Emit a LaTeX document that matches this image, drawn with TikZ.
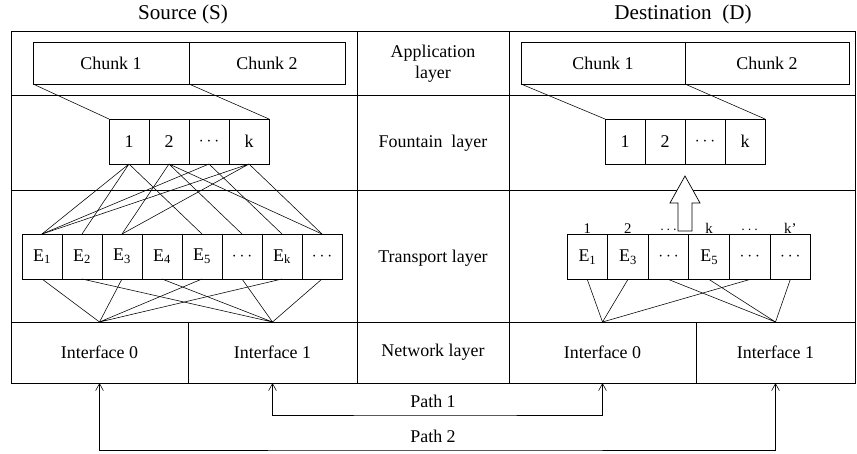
\documentclass[tikz,border=0pt]{standalone}
\usepackage{fontspec}
\setmainfont{Liberation Serif}
\usepackage{tikz}
\usetikzlibrary{positioning}
\usetikzlibrary{arrows.meta}

\tikzset{
  box/.style={draw, line width=1pt, inner sep=0pt, outer sep=0pt,
    minimum width=2cm, minimum height=2.25cm},
  chunkbox/.style={box, minimum width=7.8cm, minimum height=2.1cm},
  ifbox/.style={box, minimum height=3.05cm},
  frame/.style={line width=1.1pt},
  link/.style={line width=0.8pt},
  title/.style={font=\fontsize{30}{34}\selectfont},
  toplbl/.style={inner sep=1pt, font=\fontsize{21}{23}\selectfont},
}

\begin{document}
\begin{tikzpicture}[font=\fontsize{25.5}{30}\selectfont, >={Straight Barb[length=10pt,width=11pt]}]
\useasboundingbox (0,0) rectangle (42.85,-22.65);
% frame of the layers
\draw[frame] (0.55,-1.55) rectangle (42.75,-19.15);
\draw[frame] (0.55,-4.75) -- (42.75,-4.75);
\draw[frame] (0.55,-9.5) -- (42.75,-9.5);
\draw[frame] (0.55,-16.1) -- (42.75,-16.1);
\draw[frame] (17.85,-1.55) -- (17.85,-19.15);
\draw[frame] (25.45,-1.55) -- (25.45,-19.15);

\node[title] (src) at (9.15,-0.7) {Source (S)};
\node[title] (dst) at (34.15,-0.7) {Destination~~(D)};

% layer names
\node[align=center] (app) at (21.65,-3.2) {Application\\layer};
\node (fnt) at (21.65,-7.15) {Fountain~~layer};
\node (trn) at (21.65,-12.9) {Transport layer};
\node[ifbox, minimum width=7.6cm] (net) at (21.65,-17.625) {Network layer};

% source side
\node[chunkbox] (sc1) at (5.55,-3.15) {Chunk 1};
\node[chunkbox, right=0pt of sc1] (sc2) {Chunk 2};
\node[box] (sf1) at (6.45,-7.075) {1};
\node[box, right=0pt of sf1] (sf2) {2};
\node[box, right=0pt of sf2] (sf3) {$\cdots$};
\node[box, right=0pt of sf3] (sf4) {k};
\node[box] (se1) at (2.1,-12.825) {E\textsubscript{1}};
\node[box, right=0pt of se1] (se2) {E\textsubscript{2}};
\node[box, right=0pt of se2] (se3) {E\textsubscript{3}};
\node[box, right=0pt of se3] (se4) {E\textsubscript{4}};
\node[box, right=0pt of se4] (se5) {E\textsubscript{5}};
\node[box, right=0pt of se5] (se6) {$\cdots$};
\node[box, right=0pt of se6] (se7) {E\textsubscript{k}};
\node[box, right=0pt of se7] (se8) {$\cdots$};
\node[ifbox, minimum width=8.85cm] (si0) at (4.975,-17.625) {Interface 0};
\node[ifbox, minimum width=8.45cm, right=0pt of si0] (si1) {Interface 1};

\draw[link] (sc1.south west) -- (sf1.north west);
\draw[link] (sc1.south east) -- (sf4.north east);
\draw[link] (sf1.south) -- (se1.north) (sf1.south) -- (se2.north) (sf1.south) -- (se5.north);
\draw[link] (sf2.south) -- (se3.north) (sf2.south) -- (se6.north) (sf2.south) -- (se8.north);
\draw[link] (sf3.south) -- (se1.north) (sf3.south) -- (se7.north);
\draw[link] (sf4.south) -- (se1.north) (sf4.south) -- (se3.north) (sf4.south) -- (se8.north);
\draw[link] (si0.north) -- (se1.south) (si0.north) -- (se3.south) (si0.north) -- (se5.south) (si0.north) -- (se7.south);
\draw[link] (si1.north) -- (se2.south) (si1.north) -- (se4.south) (si1.north) -- (se6.south) (si1.north) -- (se8.south);

% destination side
\node[chunkbox, minimum width=8.2cm] (dc1) at (30.15,-3.15) {Chunk 1};
\node[chunkbox, minimum width=8.2cm, right=0pt of dc1] (dc2) {Chunk 2};
\node[box] (df1) at (31.25,-7.075) {1};
\node[box, right=0pt of df1] (df2) {2};
\node[box, right=0pt of df2] (df3) {$\cdots$};
\node[box, right=0pt of df3] (df4) {k};
\node[box, minimum width=2.03cm] (de1) at (29.365,-12.85) {E\textsubscript{1}};
\node[box, minimum width=2.03cm, right=0pt of de1] (de2) {E\textsubscript{3}};
\node[box, minimum width=2.03cm, right=0pt of de2] (de3) {$\cdots$};
\node[box, minimum width=2.03cm, right=0pt of de3] (de4) {E\textsubscript{5}};
\node[box, minimum width=2.03cm, right=0pt of de4] (de5) {$\cdots$};
\node[box, minimum width=2.03cm, right=0pt of de5] (de6) {$\cdots$};
\node[toplbl, above=0pt of de1] (dl1) {1};
\node[toplbl, above=0pt of de2] (dl2) {2};
\node[toplbl, above=0pt of de3] (dl3) {$\cdots$};
\node[toplbl, above=0pt of de4] (dl4) {k};
\node[toplbl, above=0pt of de5] (dl5) {$\cdots$};
\node[toplbl, above=0pt of de6] (dl6) {k’};
\node[ifbox, minimum width=9.35cm] (di0) at (30.125,-17.625) {Interface 0};
\node[ifbox, minimum width=7.95cm, right=0pt of di0] (di1) {Interface 1};

\draw[link] (dc1.south west) -- (df1.north west);
\draw[link] (dc1.south east) -- (df4.north east);
\draw[link] (di0.north) -- (de1.south) (di0.north) -- (de2.south) (di0.north) -- (de5.south);
\draw[link] (di1.north) -- (de3.south) (di1.north) -- (de4.south) (di1.north) -- (de6.south);

% hollow arrow up to the fountain
\draw[line width=1pt, fill=white] (34.25,-8.8) -- (35,-10.15) -- (34.6,-10.15) -- (34.6,-11.55)
  -- (33.9,-11.55) -- (33.9,-10.15) -- (33.5,-10.15) -- cycle;

% paths
\coordinate (p1) at (21.65,-20.75);
\coordinate (p2) at (21.65,-22.5);
\draw[link,<->] (si1.south) |- (p1) -| (di0.south);
\draw[link,<->] (si0.south) |- (p2) -| (di1.south);
\node (path1) at (21.65,-20.05) {Path 1};
\node (path2) at (21.65,-21.8) {Path 2};
\end{tikzpicture}
\end{document}
